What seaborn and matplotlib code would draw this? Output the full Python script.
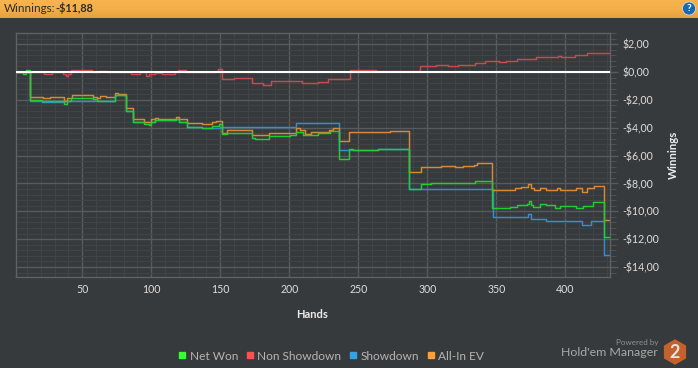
#!/usr/bin/env python3
"""Holdem Manager style winnings graph: four cumulative lines over hands."""

import numpy as np
import pandas as pd
import matplotlib.pyplot as plt
import seaborn as sns
from matplotlib.colors import LinearSegmentedColormap
from matplotlib.lines import Line2D
from matplotlib.patches import Circle, RegularPolygon
from matplotlib.ticker import MultipleLocator

W, H = 698, 368
BG = "#373a3d"

x_ticks = [50, 100, 150, 200, 250, 300, 350, 400]
y_ticks = [2, 0, -2, -4, -6, -8, -10, -12, -14]
y_tick_labels = ["$2,00", "$0,00", "-$2,00", "-$4,00", "-$6,00", "-$8,00",
                 "-$10,00", "-$12,00", "-$14,00"]

# (hand, value the line steps to at that hand)
net_won = [
    (2, 0), (7, -0.12), (9, 0.16), (12, -2.0), (21, -2.1), (25, -2.05), (37, -2.3),
    (39, -2.05), (42, -1.9), (58, -1.95), (61, -2.05), (74, -1.65), (81.5, -2.8),
    (87, -3.6), (95, -3.75), (98, -3.8), (100, -3.6), (102.7, -3.45), (118, -3.35),
    (120, -3.6), (126, -3.92), (136.5, -4.0), (144, -3.9), (149, -3.75),
    (151, -4.45), (154.6, -4.35), (172.7, -4.76), (175, -4.8), (185.5, -4.62),
    (200.5, -4.55), (205, -4.28), (210, -4.5), (211.4, -4.55), (221, -4.4),
    (229.5, -4.25), (236, -6.22), (243, -5.53), (246, -5.6), (264.5, -5.55),
    (287, -8.37), (295.2, -8.02), (303, -7.95), (334.6, -7.8), (347, -9.74),
    (360, -9.67), (364.8, -9.55), (372, -9.45), (373.5, -9.26), (375, -9.55),
    (376.8, -9.7), (381.7, -9.5), (386, -9.55), (392.5, -9.74), (396, -9.6),
    (408, -9.74), (413, -9.6), (420, -9.35), (428, -11.87), (431.5, -11.87),
]
non_showdown = [
    (2, 0), (22, -0.12), (28, 0), (36, -0.14), (38, -0.32), (40, -0.12), (42, 0.15),
    (57, 0), (62, 0.1), (68, 0), (85, -0.14), (92, 0), (96, -0.27), (98, -0.17),
    (103, -0.1), (108, -0.12), (117, 0), (119, 0.15), (125, 0), (146, 0.1),
    (148.6, 0.25), (151, -0.52), (160, -0.45), (172.7, -0.81), (181, -0.9),
    (187, -0.67), (209, -0.81), (221, -0.74), (228, -0.52), (244, 0.15), (263, 0.04),
    (294.7, 0.43), (306, 0.5), (315, 0.42), (322, 0.47), (334.5, 0.67), (341.8, 0.77),
    (352, 0.72), (357, 0.78), (365, 0.91), (379, 1.05), (395, 1.17), (397, 1.1),
    (407, 1.22), (416, 1.34), (431.5, 1.34),
]
showdown = [
    (2, 0), (12, -2.05), (21, -2.12), (36, -2.1), (60, -2.05), (74, -1.65), (81.5, -2.8),
    (87, -3.6), (102.7, -3.45), (118, -3.4), (120, -3.6), (126, -3.95), (136.5, -4.0),
    (150, -3.97), (204.8, -3.68), (236, -5.6), (264.5, -5.55), (287, -8.42),
    (347.5, -10.43), (373, -10.2), (375, -10.55), (386, -10.7), (412, -10.96),
    (418.4, -10.7), (428, -13.16), (431.5, -13.16),
]
all_in_ev = [
    (2, 0), (12, -1.77), (18, -1.8), (21.5, -1.9), (26.6, -1.8), (37, -2.05),
    (39, -1.85), (42.3, -1.65), (58, -1.8), (61, -1.9), (63, -1.75), (67, -1.8),
    (74, -1.5), (76, -1.6), (81.4, -2.6), (87, -3.4), (95, -3.6), (100, -3.4),
    (102.7, -3.28), (105, -3.38), (118, -3.2), (120, -3.4), (126, -3.68), (136.5, -3.75),
    (143.8, -3.6), (147, -3.5), (151, -4.38), (154.6, -4.2), (172.7, -4.55), (185.5, -4.4),
    (200, -4.35), (205, -4.05), (208, -4.15), (211.4, -4.45), (216, -4.3), (229, -4.2),
    (232, -4.05), (236, -4.95), (243.4, -4.33), (264, -4.3), (273, -4.27), (287, -7.2),
    (295.2, -6.85), (303, -6.8), (310, -6.75), (320, -6.8), (326, -6.72), (330, -6.78),
    (334, -6.68), (336, -6.55), (347, -8.49), (363.5, -8.3), (368, -8.25), (373, -8.04),
    (375, -8.3), (377, -8.5), (382, -8.36), (386, -8.5), (394, -8.36), (396, -8.45),
    (408, -8.36), (412, -8.6), (416, -8.3), (421, -8.15), (428, -10.65), (431.5, -10.65),
]

series_names = ["Net Won", "Non Showdown", "Showdown", "All-In EV"]
line_colors = ["#22cc33", "#c94a4a", "#2f8fd0", "#d98836"]
legend_colors = ["#33ff33", "#ff5050", "#33a3e8", "#ffa033"]


def px_rect(left, top, right, bottom):
    """Pixel box (y down) to figure fractions."""
    return [left / W, 1 - bottom / H, (right - left) / W, (bottom - top) / H]


def draw_lines(ax):
    # order matters: green covers orange and blue on the big drops
    rows = [
        ("Non Showdown", non_showdown),
        ("Showdown", showdown),
        ("All-In EV", all_in_ev),
        ("Net Won", net_won),
    ]
    palette = dict(zip(series_names, line_colors))
    for name, points in rows:
        df = pd.DataFrame(points, columns=["hand", "won"])
        sns.lineplot(data=df, x="hand", y="won", ax=ax, color=palette[name], lw=1.05,
                     estimator=None, sort=False, drawstyle="steps-post", zorder=3)


def style_axes(ax):
    ax.set_xlim(1.6, 432.4)
    ax.set_ylim(-14.69, 2.8)
    ax.set_facecolor(BG)
    ax.set_xticks(x_ticks)
    ax.set_yticks(y_ticks, labels=y_tick_labels)
    ax.xaxis.set_minor_locator(MultipleLocator(10))
    ax.yaxis.set_minor_locator(MultipleLocator(0.4))
    ax.yaxis.tick_right()
    ax.grid(True, which="major", color="#585b5e", lw=1.0)
    ax.grid(True, which="minor", color="#424548", lw=0.7)
    ax.set_axisbelow(True)
    ax.tick_params(axis="x", which="major", length=0, pad=5, labelsize=7.6, labelcolor="#dedede")
    ax.tick_params(axis="x", which="minor", length=3, width=0.7, color="#585b5e")
    ax.tick_params(axis="y", which="major", length=6, width=1, color="#585b5e", pad=3,
                   labelsize=7.6, labelcolor="#dedede")
    ax.tick_params(axis="y", which="minor", length=4, width=0.7, color="#4f5255")
    for spine in ax.spines.values():
        spine.set_visible(True)
        spine.set_color("#5f6265")
        spine.set_linewidth(1.0)
    ax.set_xlabel("")
    ax.set_ylabel("")
    ax.axhline(0, color="white", lw=1.5, zorder=5)


def draw_chrome(fig):
    band = fig.add_axes(px_rect(0, 0, W, 18))
    shade = np.linspace(0, 1, 18).reshape(-1, 1)
    band.imshow(shade, aspect="auto", cmap=LinearSegmentedColormap.from_list(
        "band", ["#f6b34e", "#f4af48", "#e4a13f"]))
    band.axis("off")

    fig.text(4 / W, 1 - 8.5 / H, "Winnings:", color="#2b2b2b", fontsize=8.4, va="center")
    fig.text(55 / W, 1 - 8.5 / H, "-$11,88", color="#2b2b2b", fontsize=7.8, va="center",
             fontweight="bold")

    fig.text(312 / W, 1 - 314 / H, "Hands", color="#ececec", fontsize=8, fontweight="bold",
             ha="center", va="center")
    fig.text(673 / W, 1 - 155 / H, "Winnings", color="#ececec", fontsize=8.2, fontweight="bold",
             rotation=90, ha="center", va="center")

    handles = [Line2D([], [], ls="", marker="s", ms=4.4, color=c) for c in legend_colors]
    fig.legend(handles, series_names, loc="center", bbox_to_anchor=(330 / W, 1 - 356 / H),
               ncol=4, frameon=False, fontsize=8.6, labelcolor="#b4b4b4", handletextpad=0.1,
               columnspacing=0.5, handlelength=1.0)

    fig.text(658 / W, 1 - 342 / H, "Powered by", color="#8f9092", fontsize=5.8, ha="right",
             va="center")
    fig.text(658 / W, 1 - 353 / H, "Hold'em Manager", color="#a8a8a8", fontsize=8.9, ha="right",
             va="center")

    over = fig.add_axes([0, 0, 1, 1], facecolor="none")
    over.set_xlim(0, W)
    over.set_ylim(H, 0)
    over.axis("off")
    over.add_patch(RegularPolygon((675, 352), 6, radius=12, color="#c5622b"))
    over.text(675, 352, "2", color="#e4e4e4", fontsize=13, fontweight="bold", ha="center",
              va="center")
    over.add_patch(Circle((689, 8.5), 6.5, fc="#1c68ad", ec="#d8e6f0", lw=0.5))
    over.text(689, 8.5, "?", color="white", fontsize=7.5, fontweight="bold", ha="center",
              va="center")


def main():
    sns.set_theme(style="dark")
    plt.rcParams["font.family"] = ["Lato", "DejaVu Sans"]

    fig = plt.figure(figsize=(W / 100, H / 100), dpi=100, facecolor=BG)
    ax = fig.add_axes(px_rect(15.5, 33, 610, 276.6))
    draw_lines(ax)
    style_axes(ax)
    draw_chrome(fig)
    fig.savefig("out.png", dpi=100, facecolor=BG)
    plt.close(fig)


if __name__ == "__main__":
    main()
